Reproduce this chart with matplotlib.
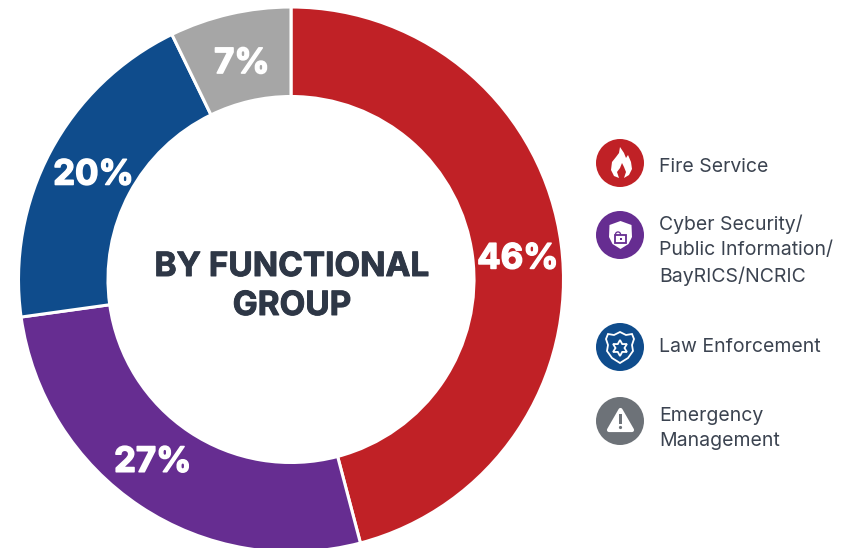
import numpy as np
import matplotlib
matplotlib.use("Agg")
import matplotlib.pyplot as plt
import matplotlib.patheffects as pe
from matplotlib.patches import Circle, Polygon, Rectangle, Wedge, PathPatch
from matplotlib.path import Path

shares = [45.9, 26.9, 20.0, 7.2]
share_labels = ["46%", "27%", "20%", "7%"]
colors = ["#C02126", "#662D91", "#0F4C8C", "#A6A6A6"]
legend_labels = [
    "Fire Service",
    "Cyber Security/\nPublic Information/\nBayRICS/NCRIC",
    "Law Enforcement",
    "Emergency\nManagement",
]
icon_colors = ["#C02126", "#662D91", "#0F4C8C", "#6D7278"]
title = "BY FUNCTIONAL\nGROUP"

W, H = 855, 548
CX, CY, R = 291, 279.5, 272.5
INNER = 183
DARK = "#2E3746"
FONT = ["Inter", "DejaVu Sans"]

fig = plt.figure(figsize=(W / 100, H / 100), dpi=100, facecolor="white")

# donut, runs a little past the bottom edge like the original
pie_ax = fig.add_axes([(CX - R) / W, 1 - (CY + R) / H, 2 * R / W, 2 * R / H])
wedges, _ = pie_ax.pie(
    shares,
    colors=colors,
    startangle=90,
    counterclock=False,
    radius=1,
    wedgeprops={"width": 1 - INNER / R, "edgecolor": "white", "linewidth": 2.2},
)
pie_ax.set_xlim(-1, 1)
pie_ax.set_ylim(-1, 1)
pie_ax.set_axis_off()

# share labels sit at the ring middle, nudged in pixels where the original is off-centre
label_r = 0.83
label_nudge = [(2.5, -9), (-13, 5), (2, -2.5), (1.5, -5)]
cum = np.cumsum([0] + shares)
for i, lab in enumerate(share_labels):
    mid = np.deg2rad(90 - (cum[i] + cum[i + 1]) / 2 * 3.6)
    pie_ax.annotate(
        lab,
        (label_r * np.cos(mid), label_r * np.sin(mid)),
        xytext=(label_nudge[i][0] * 0.72, label_nudge[i][1] * 0.72),
        textcoords="offset points",
        color="white",
        fontsize=25,
        fontweight="bold",
        family=FONT,
        ha="center",
        va="center",
        path_effects=[pe.withStroke(linewidth=1.1, foreground="white")],
    )

# overlay in pixel coords for center title and legend
ov = fig.add_axes([0, 0, 1, 1])
ov.set_xlim(0, W)
ov.set_ylim(H, 0)
ov.set_axis_off()
ov.patch.set_alpha(0)

for line, y in zip(title.split("\n"), [267, 306]):
    ov.text(292, y, line, color=DARK, fontsize=24, fontweight="bold", family=FONT,
            ha="center", va="center",
            path_effects=[pe.withStroke(linewidth=0.7, foreground=DARK)])

icon_y = [163, 235, 347, 421]
text_y = [167, 250.5, 347, 428.5]
for lab, col, iy, ty in zip(legend_labels, icon_colors, icon_y, text_y):
    ov.add_patch(Circle((620, iy), 24, color=col, lw=0))
    ov.text(659, ty, lab, color="#3B4350", fontsize=14, family=FONT, ha="left",
            va="center", linespacing=1.5)


def poly(cx, cy, pts, **kw):
    ov.add_patch(Polygon([(cx + x, cy + y) for x, y in pts], closed=True, **kw))


# flame
flame = [(-1, -16), (3, -10), (5, -5), (7, -8), (10, -1), (11, 6), (8, 12), (3, 15), (5, 9),
         (3, 4), (1, 0), (-1, 5), (-4, 9), (-2, 15), (-7, 13), (-10, 7), (-9, -1), (-5, -6),
         (-2, -10)]
poly(621, 163, flame, fc="white", lw=0)

# shield with open padlock
shield = [(0, -14), (11, -10), (11.5, 2), (8, 9), (0, 14), (-8, 9), (-11.5, 2), (-11, -10)]
poly(620.5, 235, shield, fc="white", lw=0)
ov.add_patch(Rectangle((615, 235), 11, 7.5, fc="white", ec="#662D91", lw=1.3))
ov.add_patch(Wedge((618, 234.5), 3.2, 180, 360, width=1.3, fc="#662D91", lw=0))
ov.add_patch(Rectangle((619.5, 237.5), 2, 2.5, fc="#662D91", lw=0))

# badge with star
badge = [(0, -15), (6, -12), (12, -13), (14, -8), (12, -2), (13, 4), (8, 11), (0, 16),
         (-8, 11), (-13, 4), (-12, -2), (-14, -8), (-12, -13), (-6, -12)]
poly(620, 347, badge, fc="none", ec="white", lw=1.3)
angles = np.deg2rad(np.arange(-90, 270, 30))
star = [(r * np.cos(a), 1 + r * np.sin(a)) for a, r in zip(angles, [8, 4.5] * 6)]
poly(620, 347, star, fc="none", ec="white", lw=1.3)

# warning triangle
tri = Path([(620.5, 410), (632, 430), (609, 430), (620.5, 410)],
           [Path.MOVETO, Path.LINETO, Path.LINETO, Path.CLOSEPOLY])
ov.add_patch(PathPatch(tri, fc="white", ec="white", lw=3, joinstyle="round"))
ov.add_patch(Rectangle((619.3, 414), 2.4, 10, fc="#6D7278", lw=0))
ov.add_patch(Circle((620.5, 427.5), 1.6, fc="#6D7278", lw=0))

fig.savefig("out.png", dpi=100)
plt.close(fig)
